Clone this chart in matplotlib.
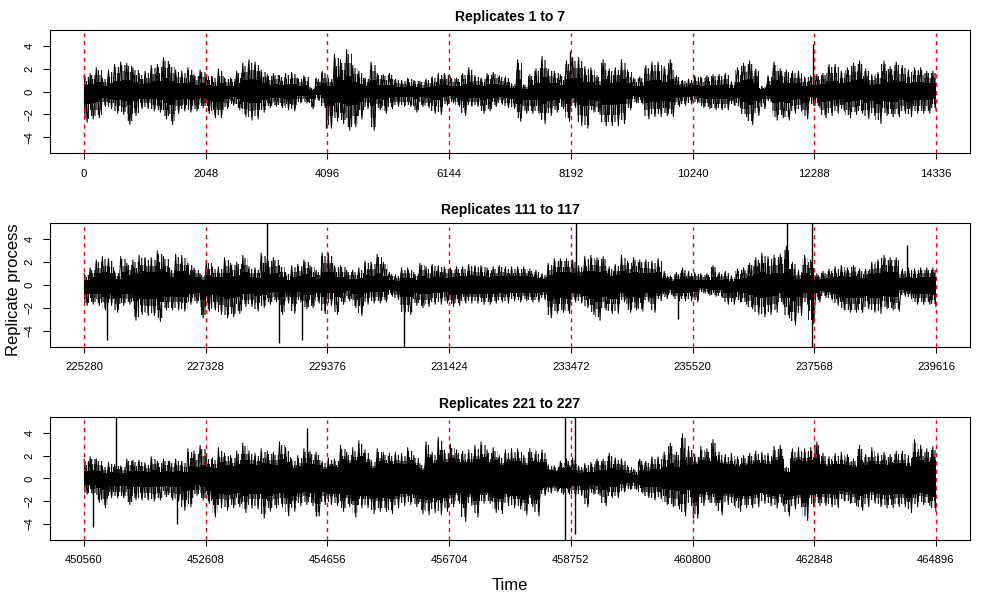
import numpy as np
import matplotlib
matplotlib.use('Agg')
import matplotlib.pyplot as plt

plt.rcParams['font.family'] = ['Liberation Sans', 'DejaVu Sans']
plt.rcParams['hatch.linewidth'] = 0.8

# block of 2048 samples per replicate, 7 replicates in each panel
starts = [0, 225280, 450560]
titles = ['Replicates 1 to 7', 'Replicates 111 to 117', 'Replicates 221 to 227']
block = 2048

# tops and bottoms of the swings, 20 readings per replicate
upper1 = [1.4,1.6,2.1,1.2,1.9,2.4,2.6,2.5,2.1,1.6,1.8,2.3,2.4,3.0,2.4,1.9,1.8,2.1,1.5,1.9,
          1.5,1.3,2.0,1.2,1.2,1.8,2.5,2.8,2.6,1.9,1.5,1.6,1.4,1.6,1.7,1.2,1.4,0.4,1.2,1.8,
          1.2,3.3,2.8,3.7,2.3,1.8,1.2,2.6,1.6,1.5,1.6,1.1,1.0,1.2,1.0,0.9,1.1,1.3,1.6,1.6,
          1.3,1.2,1.6,2.1,1.4,1.2,1.6,1.7,1.4,1.3,0.7,2.8,0.6,1.5,2.0,3.1,2.0,1.8,1.5,2.7,
          3.0,3.0,2.2,2.1,1.4,2.8,2.0,2.1,2.8,1.9,1.2,1.3,2.3,2.6,2.6,2.2,2.8,1.4,1.0,1.1,
          1.4,1.3,1.4,1.5,1.5,1.6,0.9,2.1,2.5,2.7,2.0,0.5,1.4,2.6,2.0,1.9,1.8,1.8,1.3,1.4,
          1.5,1.6,2.4,2.4,1.8,2.1,2.5,2.7,2.0,1.5,1.7,2.7,2.2,2.6,2.3,1.9,2.1,2.1,1.8,1.8]
lower1 = [-2.7,-2.4,-2.3,-1.3,-1.5,-1.9,-2.0,-2.9,-2.1,-1.5,-1.5,-1.7,-1.8,-2.4,-2.9,-1.9,-1.7,-1.8,-1.7,-1.4,
          -1.9,-2.3,-2.3,-1.5,-1.2,-1.6,-2.2,-2.5,-2.4,-1.8,-1.4,-1.3,-1.4,-1.6,-1.7,-1.0,-1.0,-1.5,-0.8,-1.4,
          -3.2,-2.6,-2.8,-3.4,-3.1,-2.4,-1.5,-3.4,-1.6,-1.9,-1.5,-1.3,-1.3,-1.3,-1.8,-1.3,-1.4,-1.9,-2.0,-1.2,
          -1.0,-1.3,-2.1,-1.3,-1.3,-1.9,-1.7,-1.3,-1.1,-1.4,-1.5,-2.6,-1.9,-1.9,-1.9,-2.8,-2.1,-1.8,-1.5,-2.6,
          -1.4,-3.0,-3.2,-1.8,-2.0,-3.0,-3.0,-3.0,-2.8,-1.6,-1.0,-1.1,-2.4,-2.2,-2.2,-2.1,-2.2,-1.3,-1.2,-1.1,
          -1.0,-1.4,-1.5,-1.6,-1.6,-1.6,-1.2,-1.4,-2.2,-2.9,-2.1,-1.5,-0.9,-2.5,-2.3,-2.5,-1.9,-1.7,-2.4,-1.2,
          -1.4,-2.3,-2.1,-1.9,-1.7,-2.3,-2.0,-1.9,-2.4,-2.1,-2.8,-2.1,-2.2,-2.2,-1.9,-2.2,-1.9,-1.9,-1.9,-1.6]

upper2 = [1.0,1.5,2.2,2.5,2.3,1.2,2.5,1.9,2.2,2.6,2.4,2.4,3.0,2.5,1.5,2.7,2.6,1.9,1.5,1.0,
          2.1,1.6,1.6,2.4,1.9,2.0,2.6,1.6,1.5,2.8,2.3,2.4,1.7,1.1,1.7,1.8,2.2,1.7,1.3,2.8,
          2.8,1.7,1.7,1.3,1.3,1.5,2.1,2.0,2.7,2.0,1.1,0.9,1.5,1.5,1.1,1.9,1.6,1.8,1.7,1.6,
          1.5,1.6,1.6,1.8,1.7,1.7,1.5,1.6,1.7,1.6,1.6,1.6,1.6,1.4,1.3,1.0,1.9,2.3,2.3,2.3,
          2.2,1.7,2.5,2.6,2.4,2.5,1.6,1.8,2.6,2.1,2.4,2.2,2.2,2.1,2.3,1.2,0.8,1.1,1.5,1.2,
          1.1,1.0,1.0,1.7,1.1,1.2,0.8,1.4,1.5,1.9,2.4,2.8,2.5,2.6,2.7,3.4,2.0,1.3,2.6,2.2,
          1.0,1.2,1.4,1.6,1.7,1.5,1.7,1.4,1.4,2.0,2.2,2.6,2.4,2.4,1.4,1.5,1.4,1.5,1.5,1.5]
lower2 = [-1.8,-1.7,-1.8,-2.2,-1.8,-2.4,-1.8,-1.7,-3.1,-2.6,-2.7,-2.7,-3.2,-2.2,-2.2,-2.2,-2.3,-1.7,-1.6,-2.9,
          -2.3,-2.2,-2.6,-2.9,-2.8,-2.5,-1.9,-1.9,-2.3,-2.0,-1.7,-1.5,-2.6,-1.6,-2.5,-1.5,-2.1,-2.0,-1.6,-2.5,
          -1.8,-2.6,-1.7,-1.4,-2.0,-2.7,-1.7,-1.6,-1.6,-1.5,-1.0,-1.3,-2.6,-2.6,-1.8,-2.0,-1.9,-1.7,-1.7,-1.6,
          -1.9,-1.8,-1.6,-1.6,-1.6,-1.7,-1.7,-1.6,-1.5,-1.6,-1.4,-1.5,-1.4,-1.5,-1.5,-1.3,-2.9,-2.5,-2.4,-2.5,
          -1.5,-1.6,-2.0,-2.6,-3.1,-2.2,-2.5,-2.5,-1.5,-2.4,-2.2,-2.3,-1.5,-2.4,-1.4,-1.2,-1.0,-1.4,-1.4,-1.4,
          -1.5,-0.7,-0.9,-1.0,-1.1,-1.7,-1.7,-1.5,-1.7,-2.1,-2.6,-2.8,-2.6,-2.4,-1.7,-2.9,-3.5,-2.7,-1.7,-3.4,
          -1.5,-1.1,-1.3,-1.8,-2.2,-2.4,-2.4,-2.4,-2.1,-2.4,-2.5,-2.1,-2.2,-2.3,-1.0,-1.2,-1.7,-1.7,-1.7,-1.9]

upper3 = [1.7,1.9,1.7,1.1,1.4,1.2,1.1,1.7,1.6,1.6,1.3,1.9,1.5,1.7,1.5,1.7,1.5,2.6,2.4,2.9,
          1.9,1.8,2.7,2.2,2.0,2.4,3.1,2.4,2.2,2.6,2.4,2.3,3.2,2.7,1.7,2.0,2.6,2.4,2.3,1.5,
          1.8,1.7,2.9,2.3,2.7,3.3,2.5,1.6,2.6,2.3,2.2,2.3,2.2,2.7,2.0,1.3,3.2,2.3,3.6,2.5,
          3.0,2.5,2.4,2.5,2.9,3.2,2.5,2.7,2.0,2.5,2.6,2.6,2.0,2.6,2.4,2.5,1.2,1.1,1.5,1.7,
          1.8,1.1,1.3,1.4,1.7,1.7,2.2,1.8,1.7,1.1,0.8,1.7,1.5,1.9,1.9,2.3,3.1,2.3,3.9,2.8,
          2.1,2.8,2.6,3.4,2.3,2.1,2.2,1.9,2.0,2.2,2.4,2.3,2.2,2.8,2.9,1.0,2.6,2.7,2.6,2.7,
          3.2,2.2,1.9,2.2,2.3,2.1,1.7,2.9,2.1,2.7,2.2,2.3,2.1,2.4,2.4,2.0,3.4,2.9,2.6,2.8]
lower3 = [-1.4,-1.4,-2.1,-2.6,-1.7,-1.7,-1.7,-2.3,-1.9,-1.9,-1.9,-2.0,-1.9,-1.6,-1.9,-2.0,-2.8,-2.5,-1.5,-1.9,
          -2.2,-3.4,-2.6,-2.8,-2.6,-2.5,-3.0,-2.6,-2.7,-3.5,-2.9,-2.6,-2.5,-3.3,-2.9,-2.4,-2.3,-2.4,-3.3,-2.3,
          -2.3,-2.4,-2.9,-2.5,-3.4,-2.6,-2.6,-3.1,-2.9,-2.9,-3.1,-2.6,-2.4,-2.3,-2.5,-3.1,-3.2,-3.0,-3.2,-2.9,
          -2.5,-2.2,-3.8,-2.4,-3.4,-2.2,-2.2,-3.0,-3.1,-2.4,-2.6,-2.7,-3.2,-2.5,-3.3,-1.5,-1.3,-1.2,-1.4,-1.4,
          -1.5,-1.5,-2.5,-1.4,-1.5,-2.4,-1.7,-1.7,-1.2,-1.0,-1.0,-1.3,-1.7,-1.9,-1.8,-2.3,-2.5,-2.7,-3.3,-2.4,
          -3.5,-2.4,-2.1,-2.4,-3.2,-2.3,-2.4,-2.9,-2.6,-2.6,-2.5,-2.2,-2.4,-2.6,-2.4,-3.3,-2.7,-2.5,-3.7,-2.5,
          -2.4,-2.4,-2.5,-2.6,-2.0,-2.2,-2.4,-2.8,-2.5,-2.1,-2.5,-2.6,-2.6,-2.5,-2.5,-3.0,-2.5,-2.3,-2.4,-2.9]

# how much of each replicate's swing is solid black
share1 = [0.40, 0.40, 0.38, 0.40, 0.40, 0.40, 0.40]
share2 = [0.46, 0.42, 0.40, 0.48, 0.48, 0.40, 0.46]
share3 = [0.40, 0.52, 0.58, 0.58, 0.42, 0.58, 0.56]

# lone spikes that stand clear of the trace
spike_x1 = [4068, 8170, 12261]
spike_lo1 = [-3.2, 0.0, 0.0]
spike_hi1 = [0.0, 3.6, 4.2]
spike_x2 = [225673, 228361, 228568, 228950, 230667, 233563, 235280, 237103, 237525, 239129]
spike_lo2 = [-4.8, 0.0, -5.1, -4.8, -5.4, 0.0, -3.0, 0.0, -5.4, 0.0]
spike_hi2 = [0.0, 5.4, 0.0, 0.0, 0.0, 5.4, 0.0, 5.4, 5.4, 3.5]
spike_x3 = [450717, 451104, 452120, 454309, 454466, 458658, 458815, 460801]
spike_lo3 = [-4.3, 0.0, -4.0, 0.0, -3.3, -5.4, -4.9, -3.5]
spike_hi3 = [0.0, 5.4, 0.0, 4.4, 0.0, 5.4, 5.4, 0.0]

uppers = [upper1, upper2, upper3]
lowers = [lower1, lower2, lower3]
shares = [share1, share2, share3]
spikes = [(spike_x1, spike_lo1, spike_hi1), (spike_x2, spike_lo2, spike_hi2), (spike_x3, spike_lo3, spike_hi3)]

W, H = 1000.0, 600.0
tops = [30.0, 223.3, 416.7]
heights = 123.3

fig = plt.figure(figsize=(10, 6), dpi=100)
for i in range(3):
    ax = fig.add_axes([50 / W, 1 - (tops[i] + heights) / H, 920 / W, heights / H])
    start = starts[i]
    end = start + 7 * block
    breaks = [start + k * block for k in range(8)]

    up = np.array(uppers[i] + [uppers[i][-1]])
    lo = np.array(lowers[i] + [lowers[i][-1]])
    edges = np.linspace(start, end, 141)
    solid = np.repeat(shares[i], 20)
    solid = np.append(solid, solid[-1])

    # comb of the trace, fine hatch inside the readings, finer towards the middle
    ax.fill_between(edges, lo * 0.9, up * 0.9, step='post', facecolor='none', edgecolor='black',
                    hatch='|||||', lw=0, zorder=2)
    ax.fill_between(edges, lo * 0.68, up * 0.68, step='post', facecolor='none', edgecolor='black',
                    hatch='||||||||', lw=0, zorder=2)
    # thin tips running up and down to each reading
    zig = np.empty(280)
    zig[0::2] = uppers[i]
    zig[1::2] = lowers[i]
    ax.plot(np.linspace(start, end, 280), zig, color='black', lw=0.7, zorder=2)
    ax.vlines(spikes[i][0], spikes[i][1], spikes[i][2], color='black', lw=1.0, zorder=2)

    ax.vlines(breaks, -5.4, 5.1, color='red', lw=1.0, linestyles=(0, (3, 3)), zorder=3)

    ax.fill_between(edges, lo * solid, up * solid, step='post', color='black', lw=0, zorder=4)

    ax.set_xlim(start - 573.44, end + 573.44)
    ax.set_ylim(-5.4, 5.4)
    ax.set_xticks(breaks)
    ax.set_xticklabels([str(b) for b in breaks])
    ax.set_yticks([-4, -2, 0, 2, 4])
    ax.set_yticklabels(['\u22124', '\u22122', '0', '2', '4'], rotation=90, va='center')
    ax.tick_params(axis='x', length=4.5, width=0.75, labelsize=8.1, pad=6.5)
    ax.tick_params(axis='y', length=5, width=0.75, labelsize=8.1, pad=6)
    for s in ax.spines.values():
        s.set_linewidth(0.8)
    ax.set_title(titles[i], fontsize=10.1, fontweight='bold', pad=6.5)

fig.text(14 / W, 1 - 290 / H, 'Replicate process', rotation=90, ha='center', va='center', fontsize=12)
fig.text(510 / W, 1 - 585 / H, 'Time', ha='center', va='center', fontsize=12)

fig.savefig('out.png', dpi=100)
